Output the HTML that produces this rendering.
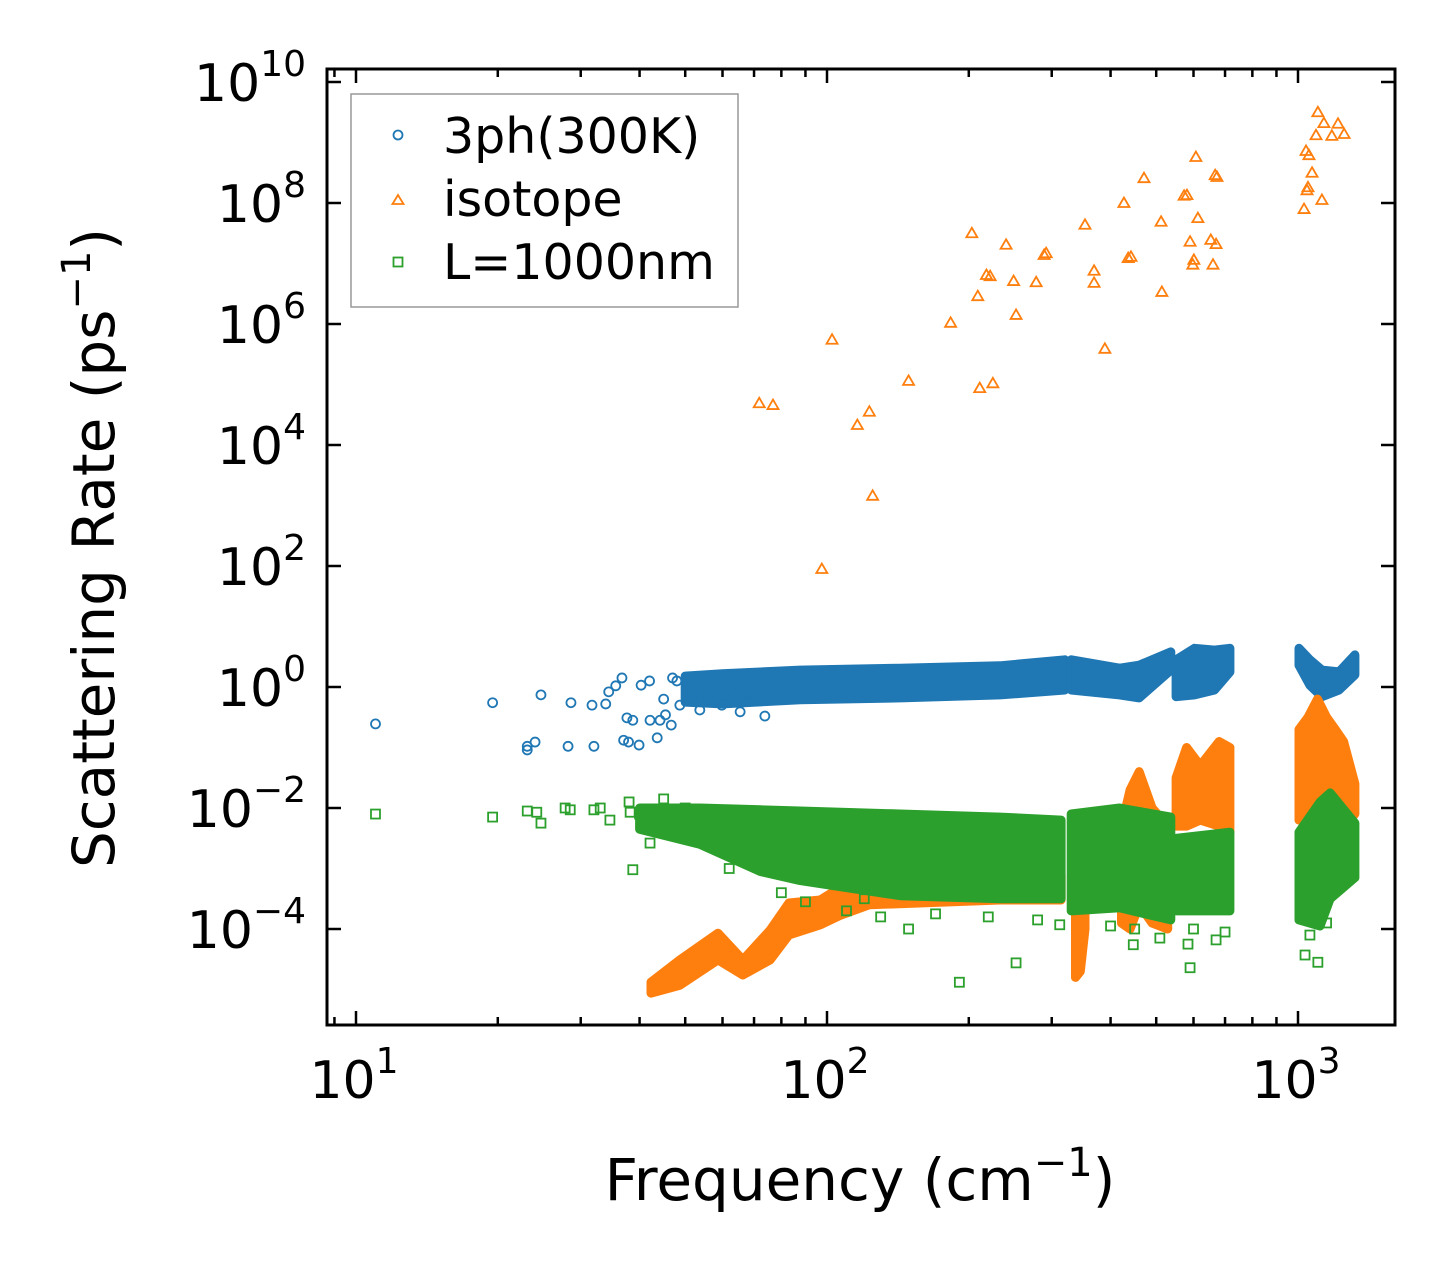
<!DOCTYPE html>
<html><head><meta charset="utf-8"><style>
body{margin:0;background:#fff}
svg{display:block;font-family:"DejaVu Sans","Liberation Sans",sans-serif}
</style></head><body>
<svg id="chart" width="1455" height="1275" viewBox="0 0 1455 1275" xmlns="http://www.w3.org/2000/svg">
<rect width="1455" height="1275" fill="#fff"/>
<g id="bands"></g><g id="axes"></g>
<g>
<rect x="351" y="94" width="387" height="213" fill="#fff" stroke="#999" stroke-width="1.5"/>
<circle cx="398" cy="135" r="4.5" fill="none" stroke="#1f77b4" stroke-width="1.8"/>
<text x="443" y="153" font-size="49">3ph(300K)</text>
<path d="M398,195 L403.5,204 L392.5,204 Z" fill="none" stroke="#ff7f0e" stroke-width="1.8"/>
<text x="443" y="216" font-size="49">isotope</text>
<rect x="393.5" y="257.5" width="9" height="9" fill="none" stroke="#2ca02c" stroke-width="1.8"/>
<text x="443" y="279" font-size="49">L=1000nm</text>
</g>
<text x="860" y="1200" font-size="58" text-anchor="middle">Frequency (cm<tspan font-size="40" dy="-24">−1</tspan><tspan dy="24">)</tspan></text>
<text transform="translate(114,548) rotate(-90)" font-size="58" text-anchor="middle">Scattering Rate (ps<tspan font-size="40" dy="-24">−1</tspan><tspan dy="24">)</tspan></text>
</svg>
<script>
// ---- data ----
const xTickExps = [1, 2, 3];
const yTickExps = [-4, -2, 0, 2, 4, 6, 8, 10];
const phFreq = [11.0,19.5,23.1,23.1,24.0,24.7,28.2,28.6,32.0,31.7,33.9,34.4,35.6,36.7,37.0,37.6,37.9,38.7,39.9,40.3,42.1,43.6,44.2,45.4,46.7,48.7,53.7,59.8,65.4,73.8,45,48,52,56,62,68,42,47];
const phLogRate = [-0.61,-0.26,-1.04,-0.98,-0.91,-0.13,-0.98,-0.26,-0.98,-0.30,-0.28,-0.08,0.02,0.15,-0.88,-0.51,-0.91,-0.55,-0.96,0.03,-0.55,-0.84,-0.55,-0.46,-0.63,-0.30,-0.38,-0.30,-0.41,-0.48,-0.2,0.1,-0.1,-0.2,-0.05,-0.15,0.1,0.15];
const isoFreq = [71.8,76.8,97.5,102.5,116,123,125,149,183,203,209,211,218,222,225,240,249,252,278,289,292,353,369,369,389,427,436,442,471,512,514,573,581,590,598,607,613,601,653,660,667,670,673,1030,1040,1055,1050,1071,1092,1102,1124,1135,1180,1216,1253,1045];
const isoLogRate = [4.69,4.66,1.95,5.74,4.33,4.55,3.16,5.06,6.02,7.50,6.46,4.94,6.81,6.79,5.02,7.31,6.71,6.15,6.69,7.14,7.17,7.64,6.88,6.68,5.59,8.0,7.09,7.11,8.41,7.69,6.53,8.12,8.13,7.36,6.98,8.76,7.75,7.06,7.39,6.98,8.46,7.32,8.43,7.90,8.86,8.79,8.26,8.50,9.12,9.50,8.05,9.32,9.11,9.31,9.14,8.21];
const bdFreq = [11.0,19.5,23.1,24.2,24.7,27.8,28.5,32.0,33.0,38.2,38.7,42.1,34.6,44.2,191,252,149,447,584,590,670,1035,1102,509,312,38,40,45,50,55,60,65,70,75,62,80,90,110,130,170,220,280,120,400,450,600,700,1060,1150];
const bdLogRate = [-2.10,-2.15,-2.05,-2.07,-2.25,-2.0,-2.03,-2.03,-2.0,-2.07,-3.02,-2.58,-2.2,-2.36,-4.88,-4.56,-4.0,-4.26,-4.25,-4.64,-4.18,-4.43,-4.55,-4.15,-3.93,-1.9,-2.1,-1.85,-2.0,-2.3,-2.55,-2.7,-2.9,-2.4,-3.0,-3.4,-3.55,-3.7,-3.8,-3.75,-3.8,-3.85,-3.5,-3.95,-4.0,-4.0,-4.05,-4.1,-3.9];
const phBand1F=[50,60,87.7,143,233,320], phBand1Hi=[0.18,0.22,0.28,0.31,0.35,0.45], phBand1Lo=[-0.25,-0.28,-0.21,-0.18,-0.13,-0.05];
const phBand2F=[330,418,460,537], phBand2Hi=[0.45,0.31,0.36,0.58], phBand2Lo=[-0.05,-0.13,-0.18,0.28];
const phBand3F=[551,603,665,717], phBand3Hi=[0.45,0.64,0.61,0.64], phBand3Lo=[-0.16,-0.13,-0.05,0.25];
const phBand4F=[1005,1060,1124,1222,1321], phBand4Hi=[0.64,0.45,0.28,0.25,0.53], phBand4Lo=[0.36,0.03,-0.16,-0.05,0.2];
const isoBand1F=[42.3,48.7,58.7,66.3,75.7,83,96.8,107,123,233,314], isoBand1Hi=[-4.88,-4.51,-4.07,-4.51,-4.02,-3.57,-3.52,-3.31,-3.19,-3.19,-3.11], isoBand1Lo=[-5.06,-4.93,-4.51,-4.76,-4.51,-4.10,-3.93,-3.77,-3.60,-3.52,-3.52];
const isoBand2F=[337,345,353], isoBand2Hi=[-3.0,-3.5,-3.2], isoBand2Lo=[-4.8,-4.7,-4.0];
const isoBand3F=[422,440,460,490,529], isoBand3Hi=[-2.3,-1.7,-1.4,-2.0,-2.3], isoBand3Lo=[-3.9,-4.0,-3.6,-3.9,-4.0];
const isoBand4F=[551,580,620,680,717], isoBand4Hi=[-1.5,-1.0,-1.3,-0.9,-1.0], isoBand4Lo=[-2.3,-2.3,-2.2,-2.3,-2.4];
const isoBand5F=[1005,1050,1100,1150,1200,1250,1321], isoBand5Hi=[-0.7,-0.5,-0.2,-0.5,-0.7,-0.9,-1.6], isoBand5Lo=[-2.2,-2.0,-1.8,-2.0,-1.9,-2.3,-2.1];
const bdBand1F=[40,53.7,72.2,87.7,143,233,314], bdBand1Hi=[-2.0,-2.0,-2.03,-2.05,-2.1,-2.15,-2.2], bdBand1Lo=[-2.35,-2.6,-3.05,-3.2,-3.45,-3.5,-3.5];
const bdBand2F=[330,418,537], bdBand2Hi=[-2.1,-2.0,-2.15], bdBand2Lo=[-3.7,-3.65,-3.85];
const bdBand3F=[551,717], bdBand3Hi=[-2.5,-2.4], bdBand3Lo=[-3.7,-3.7];
const bdBand4F=[1005,1114,1170,1321], bdBand4Hi=[-2.4,-1.9,-1.75,-2.25], bdBand4Lo=[-3.85,-3.95,-3.5,-3.15];

// ---- axes ----
const L=327,R=1395,T=69,B=1025;
const X0=356, XD=471, Y0=687, YD=60.5;
function xs(f){return X0+XD*(Math.log10(f)-1);}
function ys(lv){return Y0-YD*lv;}
const NS='http://www.w3.org/2000/svg';
function mk(tag,attrs,parent){const e=document.createElementNS(NS,tag);for(const k in attrs)e.setAttribute(k,attrs[k]);parent.appendChild(e);return e;}
const C={ph:'#1f77b4',iso:'#ff7f0e',bd:'#2ca02c'};
const bandsG=document.getElementById('bands'), axesG=document.getElementById('axes');

function band(F,Hi,Lo,color,name){
  let pts=[];
  for(let i=0;i<F.length;i++)pts.push(xs(F[i]).toFixed(1)+','+ys(Hi[i]).toFixed(1));
  for(let i=F.length-1;i>=0;i--)pts.push(xs(F[i]).toFixed(1)+','+ys(Lo[i]).toFixed(1));
  const p=mk('polygon',{points:pts.join(' '),fill:color,stroke:color,'stroke-width':9,'stroke-linejoin':'round'},bandsG);
  
  
}
function marker(type,f,lv,color,name){
  const x=xs(f),y=ys(lv);let e;
  if(type==='c')e=mk('circle',{cx:x,cy:y,r:4.5,fill:'none',stroke:color,'stroke-width':1.8},bandsG);
  else if(type==='t')e=mk('path',{d:`M${x},${y-5.5} L${x+5.5},${y+4} L${x-5.5},${y+4} Z`,fill:'none',stroke:color,'stroke-width':1.8},bandsG);
  else e=mk('rect',{x:x-4.5,y:y-4.5,width:9,height:9,fill:'none',stroke:color,'stroke-width':1.8},bandsG);
  
  
}
band(phBand1F,phBand1Hi,phBand1Lo,C.ph,'3ph-cluster-1');
band(phBand2F,phBand2Hi,phBand2Lo,C.ph,'3ph-cluster-2');
band(phBand3F,phBand3Hi,phBand3Lo,C.ph,'3ph-cluster-3');
band(phBand4F,phBand4Hi,phBand4Lo,C.ph,'3ph-cluster-4');
for(let i=0;i<phFreq.length;i++)marker('c',phFreq[i],phLogRate[i],C.ph,'3ph-point');
band(isoBand1F,isoBand1Hi,isoBand1Lo,C.iso,'isotope-cluster-1');
band(isoBand2F,isoBand2Hi,isoBand2Lo,C.iso,'isotope-cluster-2');
band(isoBand3F,isoBand3Hi,isoBand3Lo,C.iso,'isotope-cluster-3');
band(isoBand4F,isoBand4Hi,isoBand4Lo,C.iso,'isotope-cluster-4');
band(isoBand5F,isoBand5Hi,isoBand5Lo,C.iso,'isotope-cluster-5');
for(let i=0;i<isoFreq.length;i++)marker('t',isoFreq[i],isoLogRate[i],C.iso,'isotope-point');
band(bdBand1F,bdBand1Hi,bdBand1Lo,C.bd,'boundary-cluster-1');
band(bdBand2F,bdBand2Hi,bdBand2Lo,C.bd,'boundary-cluster-2');
band(bdBand3F,bdBand3Hi,bdBand3Lo,C.bd,'boundary-cluster-3');
band(bdBand4F,bdBand4Hi,bdBand4Lo,C.bd,'boundary-cluster-4');
for(let i=0;i<bdFreq.length;i++)marker('s',bdFreq[i],bdLogRate[i],C.bd,'boundary-point');

const fr=mk('rect',{x:L,y:T,width:R-L,height:B-T,fill:'none',stroke:'#000','stroke-width':3},axesG);


for(let e=0;e<=3;e++){
  for(let m=1;m<10;m++){
    const f=m*Math.pow(10,e);const x=xs(f);
    if(x<L||x>R)continue;
    const len=m===1?14:8;
    mk('line',{x1:x,y1:B,x2:x,y2:B-len,stroke:'#000','stroke-width':2.5},axesG);
    mk('line',{x1:x,y1:T,x2:x,y2:T+len,stroke:'#000','stroke-width':2.5},axesG);
  }
}
xTickExps.forEach(e=>{
  const t=mk('text',{x:xs(Math.pow(10,e))-2,y:1098,'font-size':52,'text-anchor':'middle'},axesG);
  t.innerHTML='10<tspan font-size="36" dy="-25">'+e+'</tspan>';
  
  
});
yTickExps.forEach(e=>{
  const y=ys(e);
  mk('line',{x1:L,y1:y,x2:L+14,y2:y,stroke:'#000','stroke-width':2.5},axesG);
  mk('line',{x1:R,y1:y,x2:R-14,y2:y,stroke:'#000','stroke-width':2.5},axesG);
  const t=mk('text',{x:306,y:y+19,'font-size':52,'text-anchor':'end'},axesG);
  t.innerHTML='10<tspan font-size="36" dy="-25">'+(e<0?'−'+(-e):e)+'</tspan>';
  
  
});
</script>
</body></html>
